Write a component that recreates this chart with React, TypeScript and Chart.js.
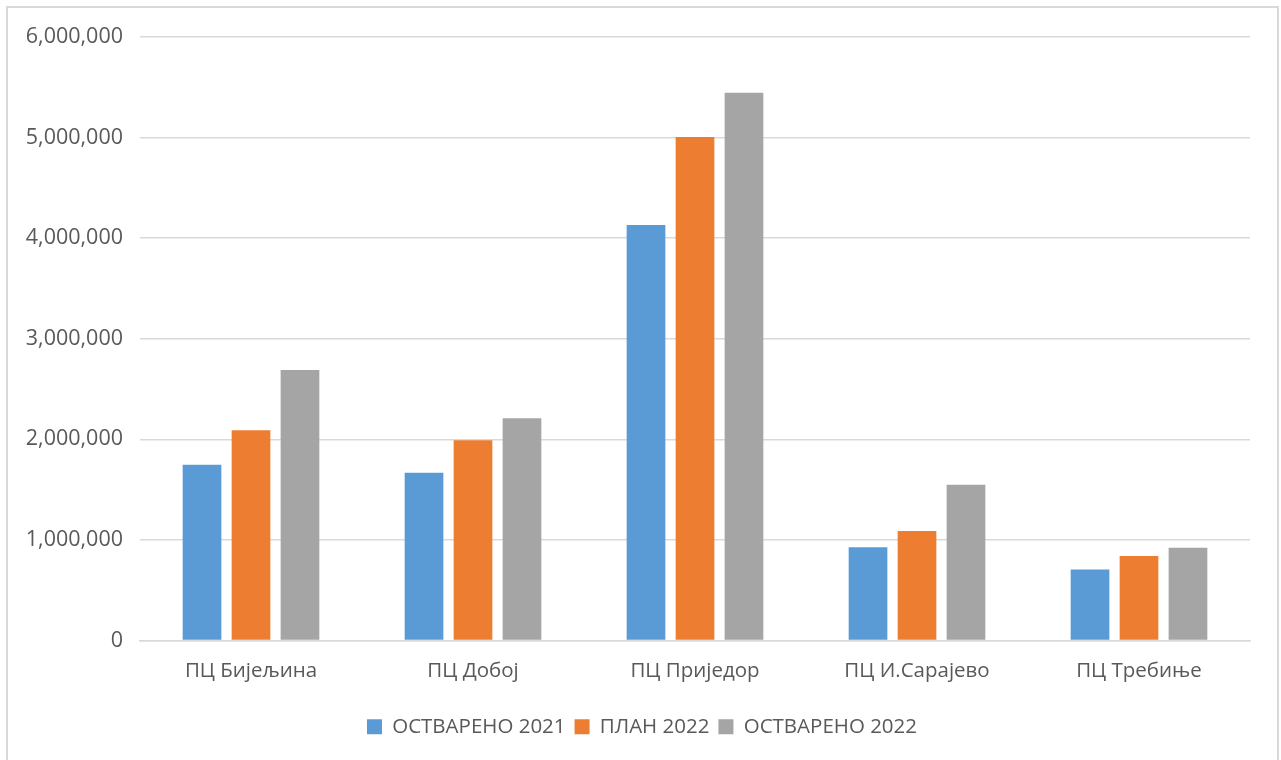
import React, { useEffect, useRef } from "react";
import { Chart, registerables } from "chart.js";

Chart.register(...registerables);

const categories = ["ПЦ Бијељина", "ПЦ Добој", "ПЦ Приједор", "ПЦ И.Сарајево", "ПЦ Требиње"];
const ostvareno2021 = [1748000, 1669000, 4132000, 928000, 706000];
const plan2022 = [2090000, 1990000, 5005000, 1088000, 839000];
const ostvareno2022 = [2690000, 2209000, 5446000, 1549000, 922000];
const seriesNames = ["ОСТВАРЕНО 2021", "ПЛАН 2022", "ОСТВАРЕНО 2022"];
const seriesColors = ["#5B9BD5", "#ED7D31", "#A5A5A5"];

const FONT = "'Open Sans', 'Noto Sans', sans-serif";
const TEXT = "#595959";

const legendShift = {
  id: "legendShift",
  afterLayout(chart: any) {
    if (chart.legend) {
      chart.legend.left += 17;
      chart.legend.right += 17;
    }
  },
};

export default function App() {
  const ref = useRef<HTMLCanvasElement | null>(null);

  useEffect(() => {
    if (!ref.current) return;
    const chart = new Chart(ref.current, {
      type: "bar",
      data: {
        labels: categories,
        datasets: [ostvareno2021, plan2022, ostvareno2022].map((d, i) => ({
          label: seriesNames[i],
          data: d,
          backgroundColor: seriesColors[i],
          borderWidth: 0,
          categoryPercentage: 0.662,
          barPercentage: 0.79,
        })),
      },
      options: {
        responsive: false,
        animation: false,
        layout: { padding: { left: 0, right: 31, top: 37, bottom: 13 } },
        plugins: {
          tooltip: { enabled: false },
          legend: {
            position: "bottom",
            labels: {
              boxWidth: 15,
              boxHeight: 15,
              padding: 9,
              color: TEXT,
              font: { family: FONT, size: 20.5 },
            },
          },
        },
        scales: {
          x: {
            grid: { display: false, drawTicks: false },
            border: { display: true, color: "#d9d9d9", width: 1.5 },
            ticks: { color: TEXT, font: { family: FONT, size: 20.5 }, padding: 18, maxRotation: 0 },
            afterFit: (s: any) => {
              s.height = 67;
            },
          },
          y: {
            min: 0,
            max: 6000000,
            grid: { color: "#d9d9d9", lineWidth: 1.5, drawTicks: false },
            border: { display: false },
            ticks: {
              stepSize: 1000000,
              color: TEXT,
              font: { family: FONT, size: 21.5 },
              padding: 17,
              callback: (v: any) => Number(v).toLocaleString("en-US"),
            },
            afterFit: (s: any) => {
              s.width = 140;
            },
          },
        },
      },
      plugins: [legendShift],
    });
    return () => chart.destroy();
  }, []);

  return (
    <div style={{ position: "fixed", left: 0, top: 0, width: 1281, height: 760, overflow: "hidden", background: "#fff" }}>
      <canvas ref={ref} width={1281} height={760} style={{ position: "absolute", left: 0, top: 0 }} />
      <div
        style={{
          position: "absolute",
          left: 6,
          top: 6,
          width: 1273,
          height: 800,
          boxSizing: "border-box",
          border: "2px solid #d9d9d9",
          pointerEvents: "none",
        }}
      />
    </div>
  );
}
